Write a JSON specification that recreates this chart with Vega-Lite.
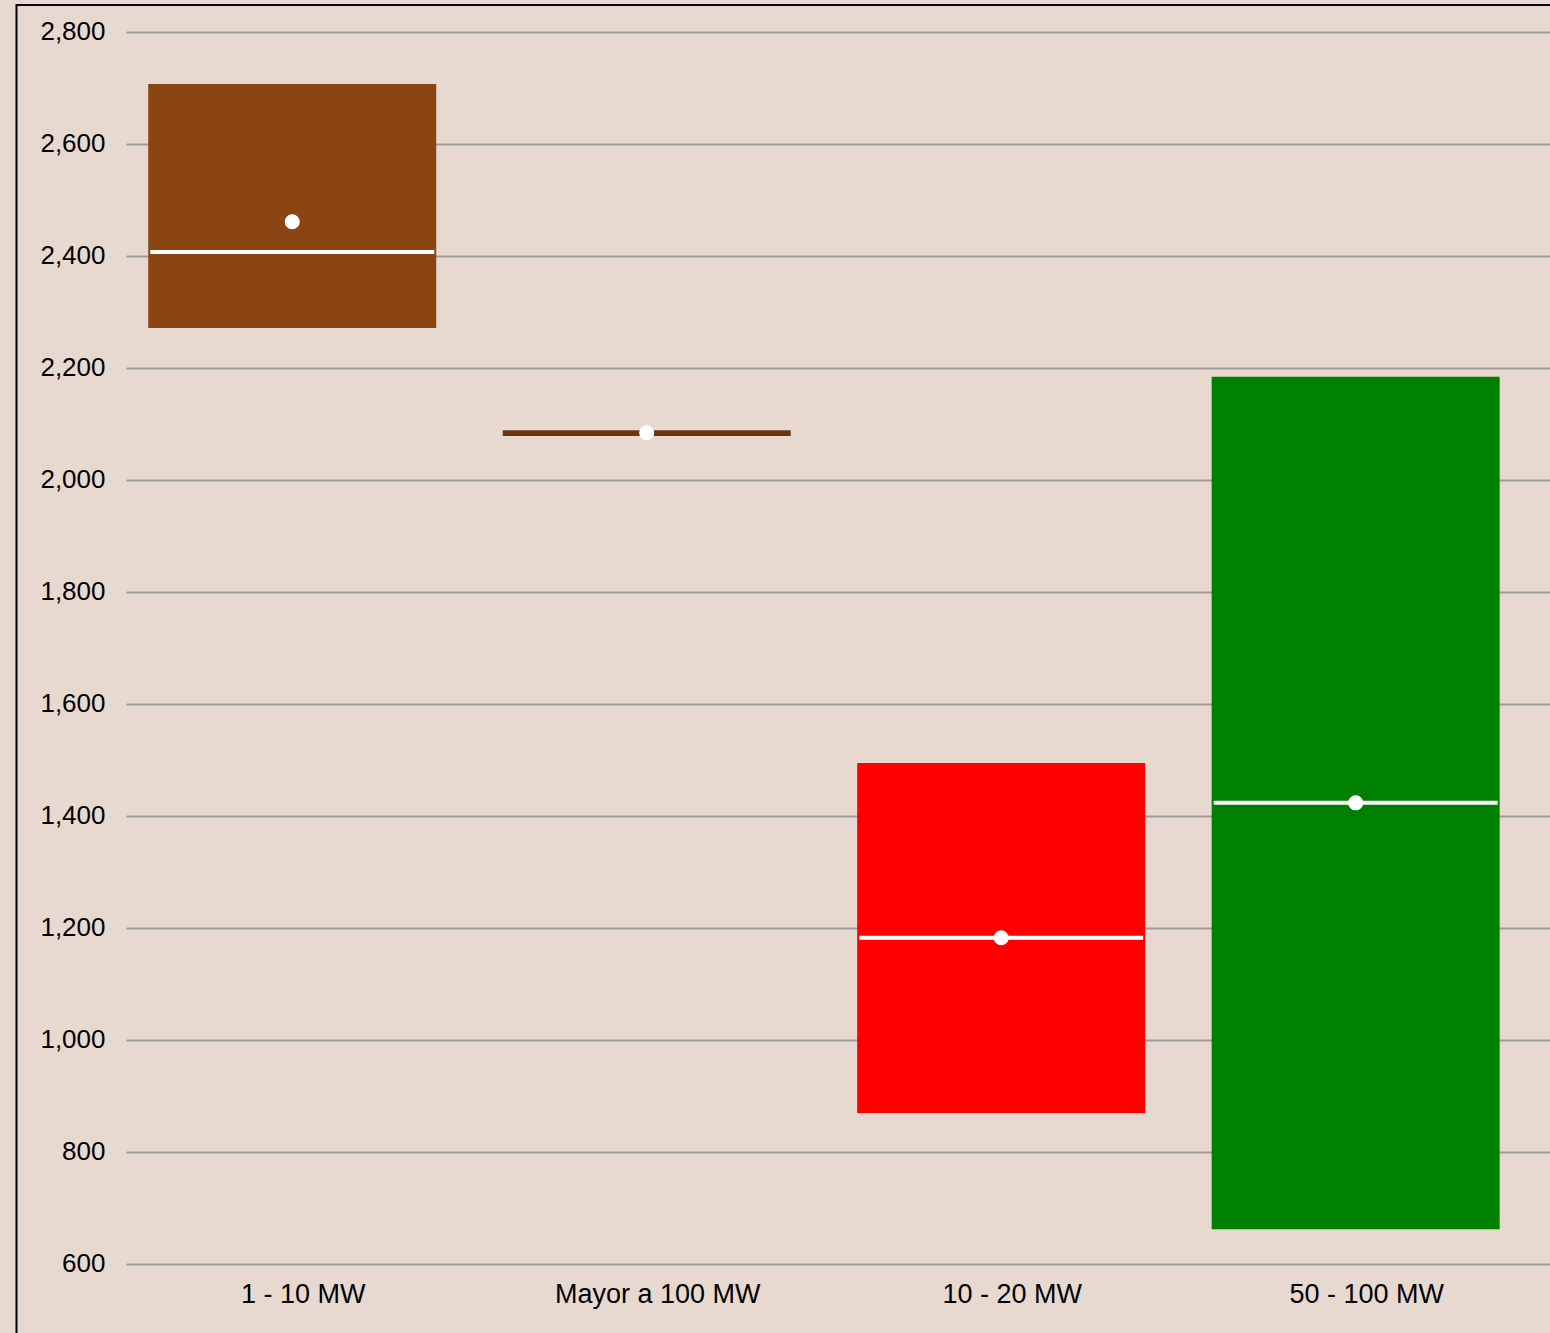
{
  "$schema": "https://vega.github.io/schema/vega-lite/v6.json",
  "autosize": {"type": "none"},
  "padding": {"left": 16.5, "top": 5, "right": -6.5, "bottom": -7},
  "width": 1540,
  "height": 1335,
  "background": "#E8D9D0",
  "config": {
    "view": {"fill": "#E8D9D0", "stroke": "#000000", "strokeWidth": 2},
    "font": "Liberation Sans"
  },
  "data": {
    "values": [
      {"categoria": "1 - 10 MW", "q1": 2271, "q3": 2707, "mediana": 2407, "media": 2461},
      {"categoria": "Mayor a 100 MW", "q1": 2078.5, "q3": 2088.5, "mediana": null, "media": 2084},
      {"categoria": "10 - 20 MW", "q1": 869, "q3": 1494, "mediana": 1182, "media": 1182},
      {"categoria": "50 - 100 MW", "q1": 661, "q3": 2184, "mediana": 1423, "media": 1423}
    ]
  },
  "encoding": {
    "x": {
      "field": "categoria",
      "type": "nominal",
      "sort": null,
      "scale": {"range": [109.5, 1533.5], "paddingInner": 0, "paddingOuter": 0.0086, "align": 0},
      "axis": {
        "title": null,
        "orient": "bottom",
        "offset": -46,
        "domain": false,
        "ticks": false,
        "tickSize": 0,
        "grid": false,
        "labelPadding": 0,
        "labelBaseline": "middle",
        "labelAngle": 0,
        "labelLimit": 0,
        "labelFontSize": 27,
        "labelColor": "#000000",
        "labelFont": "Liberation Sans"
      }
    }
  },
  "layer": [
    {
      "mark": {"type": "bar", "size": 288, "xOffset": -11},
      "encoding": {
        "y": {
          "field": "q1",
          "type": "quantitative",
          "scale": {"domain": [463.34, 2848.23], "nice": false, "zero": false},
          "axis": {
            "title": null,
            "orient": "left",
            "offset": -109.5,
            "values": [600, 800, 1000, 1200, 1400, 1600, 1800, 2000, 2200, 2400, 2600, 2800],
            "format": ",d",
            "domain": false,
            "ticks": false,
            "tickSize": 0,
            "labelPadding": 21,
            "labelFontSize": 26,
            "labelColor": "#000000",
            "labelFont": "Liberation Sans",
            "grid": true,
            "gridColor": "#9C9C9C",
            "gridWidth": 2,
            "gridOpacity": 1
          }
        },
        "y2": {"field": "q3"},
        "color": {
          "field": "categoria",
          "type": "nominal",
          "scale": {
            "domain": ["1 - 10 MW", "Mayor a 100 MW", "10 - 20 MW", "50 - 100 MW"],
            "range": ["#8B4513", "#6B3510", "#FF0000", "#008000"]
          },
          "legend": null
        }
      }
    },
    {
      "mark": {"type": "tick", "size": 284, "thickness": 4, "color": "#FFFFFF", "opacity": 1, "xOffset": -11},
      "encoding": {
        "y": {"field": "mediana", "type": "quantitative"}
      }
    },
    {
      "mark": {"type": "circle", "size": 227, "color": "#FFFFFF", "opacity": 1, "xOffset": -11},
      "encoding": {
        "y": {"field": "media", "type": "quantitative"}
      }
    }
  ]
}
